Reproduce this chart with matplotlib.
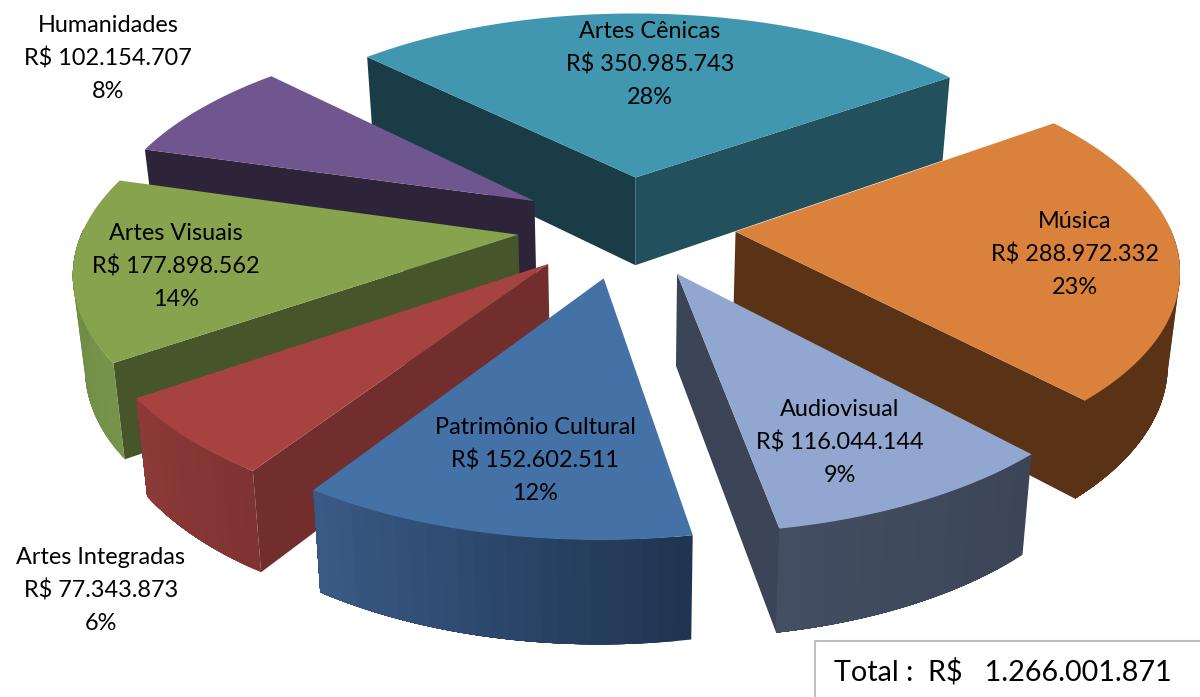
import numpy as np
import matplotlib
matplotlib.use('Agg')
import matplotlib.pyplot as plt
from matplotlib.colors import to_rgb

plt.rcParams['font.family'] = ['Lato', 'DejaVu Sans']

categories = ['Artes Cênicas', 'Música', 'Audiovisual', 'Patrimônio Cultural',
              'Artes Integradas', 'Artes Visuais', 'Humanidades']
values = np.array([350985743, 288972332, 116044144, 152602511,
                   77343873, 177898562, 102154707], dtype=float)
total_label = 'Total :  R$   1.266.001.871'

top_colors = ['#4197b0', '#da813b', '#92a7cf', '#4471a6', '#a64341', '#87a34d', '#70568e']
wall0_colors = ['#1a3c47', '#5a3316', '#3b4557', '#1f3552', '#722e2d', '#47552a', '#2e2439']
wall1_colors = ['#22505d', '#5a3316', '#3b4557', '#1f3552', '#722e2d', '#47552a', '#2e2439']
# arc side runs from theta start to theta end (clockwise on screen)
side_start = ['#22505d', '#5a3316', '#3b4557', '#1f3552', '#7f3432', '#77934a', '#2e2439']
side_end = ['#22505d', '#5a3316', '#444e62', '#3a5a85', '#8c3a38', '#6f8a44', '#2e2439']
draw_order = [0, 6, 1, 5, 4, 2, 3]

label_x = [650, 1075, 840, 535, 101, 176, 108]
label_y = [65, 255, 443, 461, 591, 266, 59]

# projection fitted against the reference's slice corners
CX, CY, RAD, TILT, PERSP = 626.62, 226.42, 434.37, 0.4678, 0.1544
START = np.radians(225.0)
EXPLODE = 0.2511
DEPTH = 90.0
BOTTOM_SCALE = 0.978


def project(u, v, bottom=False):
    w = 1 - PERSP * v
    x = CX + RAD * u / w
    y = CY + RAD * TILT * v / w
    if bottom:
        x = CX + (x - CX) * BOTTOM_SCALE
        y = CY + (y - CY) * BOTTOM_SCALE + DEPTH / w
    return x, y


def mix(c0, c1, t):
    a, b = np.array(to_rgb(c0)), np.array(to_rgb(c1))
    return tuple(a + (b - a) * t)


def draw_slice(ax, i, a0, a1):
    mid = (a0 + a1) / 2
    ou, ov = EXPLODE * np.cos(mid), EXPLODE * np.sin(mid)
    t = np.linspace(a0, a1, 120)
    u, v = ou + np.cos(t), ov + np.sin(t)
    tx, ty = project(u, v)
    bx, by = project(u, v, bottom=True)
    ax_, ay_ = project(ou, ov)
    cx_, cy_ = project(ou, ov, bottom=True)

    # only the walls that face the viewer
    if -np.cos(a0) > 0:
        ax.fill([ax_, tx[0], bx[0], cx_], [ay_, ty[0], by[0], cy_],
                color=wall0_colors[i], lw=0, zorder=1)
    if np.cos(a1) > 0:
        ax.fill([ax_, tx[-1], bx[-1], cx_], [ay_, ty[-1], by[-1], cy_],
                color=wall1_colors[i], lw=0, zorder=1)

    # curved side, each band painted through to the end of the arc so no seams
    front = np.where(np.sin(t) > -0.03)[0]
    if len(front) > 1:
        steps = list(range(front[0], front[-1], 5))
        for n, j in enumerate(steps):
            col = mix(side_start[i], side_end[i], n / max(len(steps) - 1, 1))
            e = front[-1] + 1
            ax.fill(np.r_[tx[j:e], bx[j:e][::-1]], np.r_[ty[j:e], by[j:e][::-1]],
                    color=col, lw=0, zorder=1)

    ax.fill(np.r_[ax_, tx], np.r_[ay_, ty], color=top_colors[i], lw=0, zorder=1)


def run():
    fig = plt.figure(figsize=(12, 6.97), dpi=100)
    ax = fig.add_axes([0, 0, 1, 1])
    ax.set_xlim(0, 1200)
    ax.set_ylim(697, 0)
    ax.axis('off')

    bounds = START + 2 * np.pi * np.r_[0, np.cumsum(values / values.sum())]
    for i in draw_order:
        draw_slice(ax, i, bounds[i], bounds[i + 1])

    share = values / values.sum() * 100
    for i, name in enumerate(categories):
        money = 'R$ ' + f'{int(values[i]):,}'.replace(',', '.')
        lines = [name, money, f'{share[i]:.0f}%']
        for k, line in enumerate(lines):
            ax.text(label_x[i], label_y[i] + (k - 1) * 33, line, ha='center',
                    va='center', fontsize=16.9, color='black', zorder=3)

    # total box runs off the right and bottom of the picture
    ax.plot([1210, 814.5, 814.5], [641, 641, 707], color='#bfbfbf', lw=1.5,
            zorder=3, solid_joinstyle='miter')
    ax.text(834, 672, total_label, ha='left', va='center', fontsize=20.7,
            color='black', zorder=3)

    fig.savefig('out.png', dpi=100)
    plt.close(fig)


if __name__ == '__main__':
    run()
